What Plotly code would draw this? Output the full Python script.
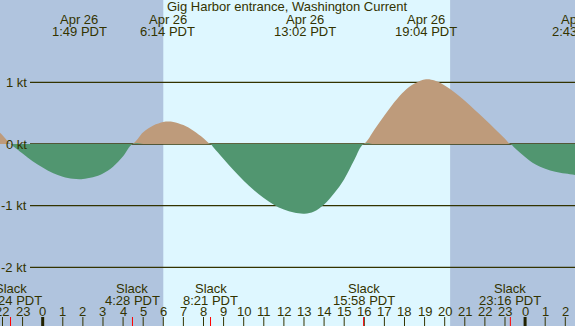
import plotly.graph_objects as go

# ---- data ----
title = "Gig Harbor entrance, Washington Current"
hours = [-2.5, -2.0, -1.6, -1.5, -1.0, -0.5, 0.0, 0.5, 1.0, 1.5, 1.82, 2.0, 2.5, 3.0, 3.5, 4.0, 4.47,
         5.0, 5.5, 6.0, 6.23, 6.5, 7.0, 7.5, 8.0, 8.35,
         8.5, 9.0, 9.5, 10.0, 10.5, 11.0, 11.5, 12.0, 12.5, 13.03, 13.5, 14.0, 14.5, 15.0, 15.5, 15.97,
         16.5, 17.0, 17.5, 18.0, 18.5, 19.07, 19.5, 20.0, 20.5, 21.0, 21.5, 22.0, 22.5, 23.0, 23.27,
         23.5, 24.0, 24.5, 25.0, 25.5, 26.0, 26.72, 27.0]
current = [0.30, 0.14, 0.0, -0.03, -0.155, -0.28, -0.38, -0.47, -0.53, -0.564, -0.57, -0.567, -0.54, -0.48, -0.37, -0.2, 0.0,
           0.19, 0.30, 0.357, 0.365, 0.358, 0.307, 0.215, 0.094, 0.0,
           -0.057, -0.244, -0.425, -0.594, -0.747, -0.877, -0.984, -1.063, -1.112, -1.13, -1.094, -0.981, -0.80, -0.57, -0.26, 0.0,
           0.23, 0.46, 0.68, 0.86, 0.98, 1.05, 1.03, 0.95, 0.835, 0.70, 0.55, 0.40, 0.245, 0.085, 0.0,
           -0.07, -0.21, -0.33, -0.40, -0.45, -0.48, -0.51, -0.505]

extreme_hours = [1.817, 6.233, 13.033, 19.067, 26.717]
extreme_labels = ["1:49 PDT", "6:14 PDT", "13:02 PDT", "19:04 PDT", "2:43 PDT"]
extreme_date = "Apr 26"

slack_hours = [-1.6, 4.467, 8.35, 15.967, 23.267]
slack_labels = ["22:24 PDT", "4:28 PDT", "8:21 PDT", "15:58 PDT", "23:16 PDT"]

sunrise = 6.0
sunset = 20.27

ytick_vals = [1, 0, -1, -2]
ytick_text = ["1 kt", "0 kt", "-1 kt", "-2 kt"]

hour_ticks = list(range(-2, 27))
hour_text = [str(h % 24) for h in hour_ticks]
midnights = [0, 24]

# ---- styling ----
W, H = 575, 326
XMIN, XMAX = -2.124, 26.483
YMIN, YMAX = -2.950, 2.334
FONT = "Liberation Sans, Arial, sans-serif"
TXT = "#333300"
DAY = "#DEF7FF"
NIGHT = "#B0C4DE"
FLOOD = "#BE9B7B"
EBB = "#519670"


def px(h):
    return (h - XMIN) / (XMAX - XMIN)


flood = [max(v, 0.0) for v in current]
ebb = [min(v, 0.0) for v in current]

fig = go.Figure()
fig.add_trace(go.Scatter(x=hours, y=flood, mode="lines", line=dict(width=0, shape="spline", color=FLOOD),
                         fill="tozeroy", fillcolor=FLOOD, hoverinfo="skip"))
fig.add_trace(go.Scatter(x=hours, y=ebb, mode="lines", line=dict(width=0, shape="spline", color=EBB),
                         fill="tozeroy", fillcolor=EBB, hoverinfo="skip"))

shapes = []
shapes.append(dict(type="rect", xref="x", yref="paper", x0=XMIN - 1, x1=sunrise, y0=0, y1=1,
                   fillcolor=NIGHT, line=dict(width=0), layer="below"))
shapes.append(dict(type="rect", xref="x", yref="paper", x0=sunset, x1=XMAX + 1, y0=0, y1=1,
                   fillcolor=NIGHT, line=dict(width=0), layer="below"))
for v in ytick_vals:
    shapes.append(dict(type="line", xref="paper", yref="y", x0=30 / W, x1=1, y0=v, y1=v,
                       line=dict(color=TXT, width=1.3), layer="below"))
for h in hour_ticks:
    shapes.append(dict(type="line", xref="x", yref="paper", x0=h, x1=h, y0=0, y1=9 / H,
                       line=dict(color=TXT, width=1)))
for h in midnights:
    shapes.append(dict(type="line", xref="x", yref="paper", x0=h, x1=h, y0=0, y1=9 / H,
                       line=dict(color="#222200", width=3)))
for h in slack_hours:
    shapes.append(dict(type="line", xref="x", yref="paper", x0=h, x1=h, y0=0, y1=9 / H,
                       line=dict(color="#FF0000", width=1)))

ann = []
font = dict(family=FONT, size=13, color=TXT)
ann.append(dict(text=title, xref="paper", yref="paper", x=0.5, y=1 - 7 / H, xanchor="center",
                yanchor="middle", showarrow=False, font=font))
for h, lab in zip(extreme_hours, extreme_labels):
    ann.append(dict(text=extreme_date, xref="paper", yref="paper", x=px(h), y=1 - 20 / H,
                    xanchor="center", yanchor="middle", showarrow=False, font=font))
    ann.append(dict(text=lab, xref="paper", yref="paper", x=px(h), y=1 - 32 / H,
                    xanchor="center", yanchor="middle", showarrow=False, font=font))
for h, lab in zip(slack_hours, slack_labels):
    ann.append(dict(text="Slack", xref="paper", yref="paper", x=px(h), y=1 - 288 / H,
                    xanchor="center", yanchor="middle", showarrow=False, font=font))
    ann.append(dict(text=lab, xref="paper", yref="paper", x=px(h), y=1 - 300 / H,
                    xanchor="center", yanchor="middle", showarrow=False, font=font))
for h, lab in zip(hour_ticks, hour_text):
    ann.append(dict(text=lab, xref="x", yref="paper", x=h, y=1 - 311 / H,
                    xanchor="center", yanchor="middle", showarrow=False, font=font))
for v, lab in zip(ytick_vals, ytick_text):
    ann.append(dict(text=lab, xref="paper", yref="y", x=28.5 / W, y=v,
                    xanchor="right", yanchor="middle", showarrow=False, font=font))

fig.update_layout(
    width=W, height=H, margin=dict(l=0, r=0, t=0, b=0),
    plot_bgcolor=DAY, paper_bgcolor=DAY, showlegend=False,
    xaxis=dict(range=[XMIN, XMAX], visible=False, fixedrange=True),
    yaxis=dict(range=[YMIN, YMAX], visible=False, fixedrange=True),
    shapes=shapes, annotations=ann,
)
fig.write_html("out.html", config={"displayModeBar": False},
               post_script="document.body.style.margin='0';document.body.style.overflow='hidden';")
